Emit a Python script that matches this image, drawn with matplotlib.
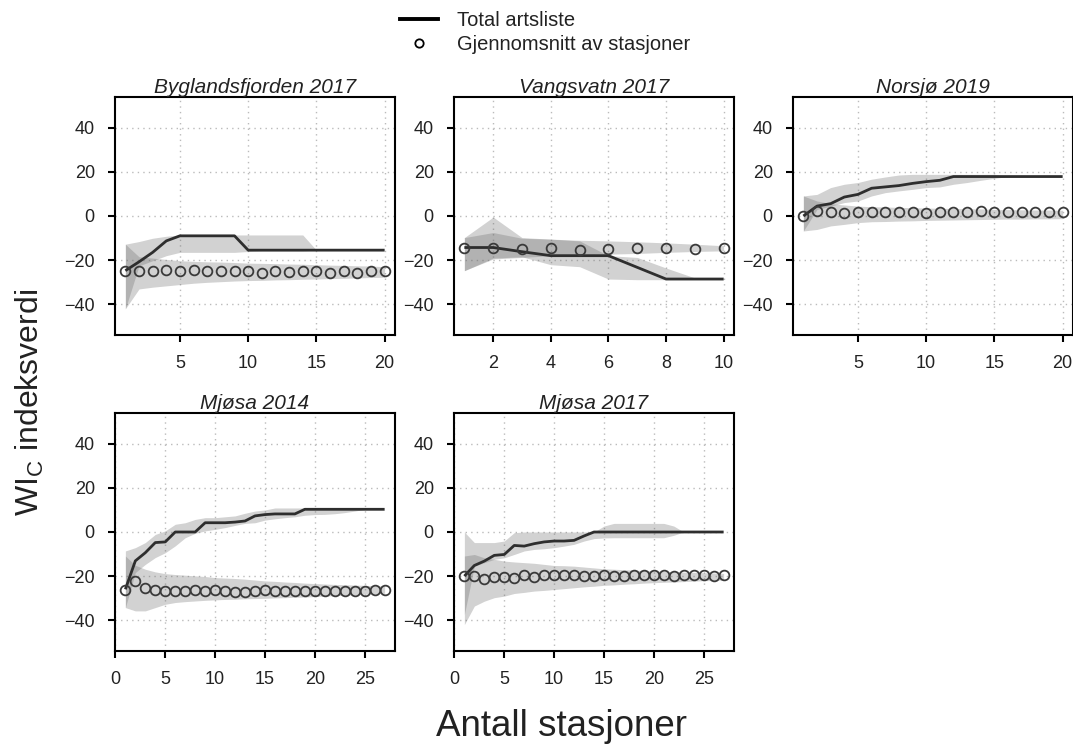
import matplotlib
matplotlib.use("Agg")
import matplotlib.pyplot as plt
from matplotlib.lines import Line2D
import numpy as np

plt.rcParams['font.family'] = ['Liberation Sans', 'DejaVu Sans']
plt.rcParams['mathtext.fontset'] = 'custom'
plt.rcParams['mathtext.rm'] = 'Liberation Sans'
plt.rcParams['mathtext.it'] = 'Liberation Sans:italic'

# ---------------- data ----------------
titles = ["Byglandsfjorden 2017", "Vangsvatn 2017", "Norsjø 2019", "Mjøsa 2014", "Mjøsa 2017"]
n_stations = [20, 10, 20, 27, 27]

byg_total = [-24.8, -20.8, -16.5, -11.3, -9.0, -9.0, -9.0, -9.0, -9.0, -15.5,
             -15.5, -15.5, -15.5, -15.5, -15.5, -15.5, -15.5, -15.5, -15.5, -15.5]
byg_mean = [-24.8, -24.8, -24.8, -24.5, -25.1, -24.5, -25.1, -25.1, -25.1, -24.8,
            -26.0, -25.1, -25.4, -25.1, -25.1, -25.7, -25.1, -25.7, -25.1, -25.1]
byg_total_hi = [-12.8, -11.6, -10.1, -9.2, -8.6, -8.6, -8.6, -8.6, -8.6, -8.6,
                -8.6, -8.6, -8.6, -8.6, -15.5, -15.5, -15.5, -15.5, -15.5, -15.5]
byg_total_lo = [-42.1, -22.6, -20.3, -18.0, -16.5, -16.5, -16.5, -16.5, -16.5, -16.1,
                -15.8, -15.8, -15.8, -15.8, -15.5, -15.5, -15.5, -15.5, -15.5, -15.5]
byg_mean_hi = [-12.8, -18.5, -19.1, -19.7, -20.3, -20.6, -20.8, -20.9, -21.1, -21.4,
               -21.5, -21.6, -21.8, -21.9, -22.1, -22.3, -22.4, -22.6, -22.7, -23.0]
byg_mean_lo = [-42.1, -33.1, -32.3, -31.7, -31.1, -30.5, -30.1, -29.8, -29.5, -29.3,
               -29.2, -29.0, -28.9, -28.7, -28.6, -28.4, -28.3, -28.1, -27.9, -27.8]

van_total = [-14.3, -14.3, -16.2, -18.0, -18.0, -18.0, -23.3, -28.6, -28.6, -28.6]
van_mean = [-14.3, -14.3, -15.2, -14.3, -15.5, -14.9, -14.6, -14.6, -14.9, -14.6]
van_total_hi = [-9.8, -0.5, -9.8, -10.5, -11.3, -18.0, -18.8, -23.6, -28.1, -28.6]
van_total_lo = [-24.8, -19.1, -18.5, -22.1, -23.0, -28.6, -28.9, -28.9, -28.9, -28.9]
van_mean_hi = [-9.8, -7.5, -10.1, -10.5, -11.0, -11.3, -11.7, -12.2, -12.8, -13.5]
van_mean_lo = [-24.8, -19.5, -18.8, -18.0, -17.6, -17.3, -17.0, -16.5, -16.1, -15.8]

nor_total = [0.0, 4.5, 5.6, 8.6, 9.8, 12.6, 13.2, 13.8, 14.8, 15.6,
             16.2, 17.9, 17.9, 17.9, 17.9, 17.9, 17.9, 17.9, 17.9, 17.9]
nor_mean = [0.0, 2.3, 1.7, 1.4, 2.0, 2.0, 1.7, 1.7, 1.7, 1.4,
            1.7, 1.7, 1.7, 2.3, 1.7, 1.7, 1.7, 1.7, 2.0, 1.7]
nor_total_hi = [9.1, 9.8, 12.9, 14.4, 15.2, 16.7, 17.7, 18.6, 18.9, 18.9,
                18.9, 18.9, 18.9, 18.9, 18.9, 17.9, 17.9, 17.9, 17.9, 17.9]
nor_total_lo = [-6.8, 3.0, 4.5, 6.1, 6.8, 9.1, 10.6, 11.4, 12.1, 12.9,
                13.2, 14.4, 15.2, 16.2, 17.1, 17.9, 17.9, 17.9, 17.9, 17.9]
nor_mean_hi = [9.1, 6.8, 5.6, 5.0, 4.5, 4.2, 4.1, 3.9, 3.8, 3.6,
               3.5, 3.4, 3.3, 3.2, 3.0, 2.9, 2.8, 2.7, 2.7, 2.6]
nor_mean_lo = [-6.8, -6.1, -4.5, -3.8, -3.0, -2.6, -2.5, -2.3, -2.2, -2.0,
               -1.9, -1.8, -1.7, -1.6, -1.5, -1.4, -1.4, -1.3, -1.3, -1.2]

m14_total = [-26.0, -13.1, -9.4, -4.8, -4.5, 0.0, 0.0, 0.0, 4.2, 4.2,
             4.2, 4.5, 5.0, 7.3, 7.9, 8.2, 8.2, 8.2, 10.3, 10.3,
             10.3, 10.3, 10.3, 10.3, 10.3, 10.3, 10.3]
m14_mean = [-26.4, -22.2, -25.5, -26.4, -26.7, -26.7, -26.7, -26.4, -26.7, -26.4,
            -26.7, -27.0, -27.3, -26.7, -26.4, -26.7, -26.7, -26.7, -26.7, -26.7,
            -26.7, -26.7, -26.7, -26.7, -26.7, -26.4, -26.4]
m14_total_hi = [-8.6, -7.1, -4.8, -1.1, 0.5, 3.5, 4.2, 5.7, 6.5, 6.5,
                6.9, 7.3, 8.5, 9.5, 10.0, 10.9, 10.9, 10.9, 10.9, 10.9,
                10.9, 10.9, 10.9, 10.6, 10.3, 10.3, 10.3]
m14_total_lo = [-34.3, -18.4, -14.7, -11.6, -9.4, -6.3, -2.6, -0.6, 0.5, 1.2,
                2.0, 3.0, 3.9, 4.2, 5.4, 6.0, 6.5, 6.9, 7.6, 7.9,
                8.0, 8.3, 8.8, 9.5, 10.3, 10.3, 10.3]
m14_mean_hi = [-10.9, -15.1, -16.9, -18.1, -18.9, -19.3, -19.6, -19.9, -20.2, -20.7,
               -20.9, -21.1, -21.4, -21.8, -22.2, -22.4, -22.7, -22.9, -23.2, -23.4,
               -23.6, -23.8, -23.9, -24.1, -24.2, -24.4, -24.5]
m14_mean_lo = [-34.3, -35.8, -35.8, -34.3, -32.8, -32.0, -31.6, -31.3, -31.0, -30.8,
               -30.6, -30.5, -30.3, -30.2, -30.1, -29.9, -29.8, -29.6, -29.5, -29.3,
               -29.1, -28.9, -28.7, -28.5, -28.2, -28.0, -27.8]

m17_total = [-20.0, -15.2, -13.2, -10.6, -10.2, -6.1, -6.4, -5.3, -4.5, -4.1,
             -4.1, -3.8, -1.8, 0.0, 0.0, 0.0, 0.0, 0.0, 0.0, 0.0,
             0.0, 0.0, 0.0, 0.0, 0.0, 0.0, 0.0]
m17_mean = [-20.0, -20.0, -21.5, -20.3, -20.3, -20.9, -19.4, -20.3, -19.4, -19.7,
            -19.7, -19.4, -20.0, -20.0, -19.4, -20.0, -20.0, -19.7, -19.7, -19.4,
            -19.7, -20.0, -19.7, -19.4, -19.7, -20.0, -19.7]
m17_total_hi = [0.0, -4.8, -4.8, -4.8, -4.1, -0.3, 0.0, 0.0, 0.0, 0.0,
                0.0, 0.0, 0.0, 0.0, 2.7, 3.9, 3.9, 3.9, 3.9, 3.9,
                3.9, 2.7, 0.0, 0.0, 0.0, 0.0, 0.0]
m17_total_lo = [-37.4, -15.5, -13.9, -12.4, -11.7, -10.2, -8.6, -7.9, -7.6, -7.1,
                -6.4, -5.6, -4.1, -3.0, -2.7, -2.6, -2.6, -2.6, -2.6, -2.6,
                -2.6, -1.5, 0.0, 0.0, 0.0, 0.0, 0.0]
m17_mean_hi = [-10.9, -10.2, -11.7, -12.4, -13.2, -13.6, -13.9, -14.2, -14.7, -15.2,
               -15.3, -15.5, -15.9, -16.3, -16.7, -16.9, -17.1, -17.3, -17.5, -17.7,
               -17.9, -18.0, -18.2, -18.3, -18.5, -18.6, -18.8]
m17_mean_lo = [-42.0, -33.6, -31.4, -29.8, -29.1, -27.9, -27.4, -26.8, -26.5, -26.1,
               -25.7, -25.3, -24.9, -24.6, -24.2, -24.0, -23.7, -23.5, -23.2, -23.0,
               -22.8, -22.7, -22.5, -22.3, -22.1, -22.0, -21.8]

panels = [
    (byg_total, byg_mean, byg_total_lo, byg_total_hi, byg_mean_lo, byg_mean_hi),
    (van_total, van_mean, van_total_lo, van_total_hi, van_mean_lo, van_mean_hi),
    (nor_total, nor_mean, nor_total_lo, nor_total_hi, nor_mean_lo, nor_mean_hi),
    (m14_total, m14_mean, m14_total_lo, m14_total_hi, m14_mean_lo, m14_mean_hi),
    (m17_total, m17_mean, m17_total_lo, m17_total_hi, m17_mean_lo, m17_mean_hi),
]
x_ticks = [[5, 10, 15, 20], [2, 4, 6, 8, 10], [5, 10, 15, 20],
           [0, 5, 10, 15, 20, 25], [0, 5, 10, 15, 20, 25]]
y_ticks = [-40, -20, 0, 20, 40]

# ---------------- layout ----------------
W, H = 1073, 744
fig = plt.figure(figsize=(W / 100, H / 100), dpi=100)
col_left = [115, 454, 793]
row_top = [97, 413]
aw, ah = 280, 238
positions = [(0, 0), (0, 1), (0, 2), (1, 0), (1, 1)]

band_color = '#6a6a6a'
line_color = '#2e2e2e'
txt_color = '#222222'

for i, (r, c) in enumerate(positions):
    left = col_left[c] / W
    bottom = 1 - (row_top[r] + ah) / H
    ax = fig.add_axes([left, bottom, aw / W, ah / H])
    tot, mean, tlo, thi, mlo, mhi = panels[i]
    n = n_stations[i]
    x = np.arange(1, n + 1)
    ax.fill_between(x, tlo, thi, color=band_color, alpha=0.3, linewidth=0, zorder=2)
    ax.fill_between(x, mlo, mhi, color=band_color, alpha=0.3, linewidth=0, zorder=2)
    ax.plot(x, tot, color=line_color, lw=2.0, zorder=4, solid_capstyle='butt')
    ax.plot(x, mean, linestyle='none', marker='o', markersize=7,
            markerfacecolor='none', markeredgecolor='#3a3a3a', markeredgewidth=1.3, zorder=5)
    pad = (n - 1) * 0.04
    ax.set_xlim(1 - pad, n + pad)
    ax.set_ylim(-54, 54)
    ax.set_xticks(x_ticks[i])
    ax.set_yticks(y_ticks)
    ax.grid(True, linestyle=(0, (1, 3)), color='#bbbbbb', linewidth=1.0, zorder=1)
    ax.set_axisbelow(True)
    for s in ax.spines.values():
        s.set_linewidth(1.5)
        s.set_color('black')
    ax.tick_params(direction='out', length=5, width=1.5, labelsize=13,
                   labelcolor=txt_color, color='black')
    ax.tick_params(axis='x', pad=9.5)
    ax.tick_params(axis='y', pad=9.5)
    ax.set_title(titles[i], fontsize=15, style='italic', color=txt_color, pad=3)

# axis labels
fig.text(30 / W, 1 - 402 / H, r'WI$_\mathrm{C}$ indeksverdi', rotation=90,
         fontsize=23, ha='center', va='center', color=txt_color)
fig.text(561 / W, 1 - 727 / H, 'Antall stasjoner', fontsize=26.5,
         ha='center', va='center', color=txt_color)

# legend
handles = [Line2D([], [], color='black', lw=2.8),
           Line2D([], [], linestyle='none', marker='o', markersize=6,
                  markerfacecolor='none', markeredgecolor='black', markeredgewidth=1.3)]
fig.legend(handles, ['Total artsliste', 'Gjennomsnitt av stasjoner'],
           loc='upper left', bbox_to_anchor=(400 / W, 1 - 11 / H), frameon=False,
           fontsize=14.5, handlelength=1.9, handletextpad=0.95, labelspacing=0.27,
           borderpad=0, borderaxespad=0, labelcolor=txt_color)

fig.savefig('out.png', dpi=100)
